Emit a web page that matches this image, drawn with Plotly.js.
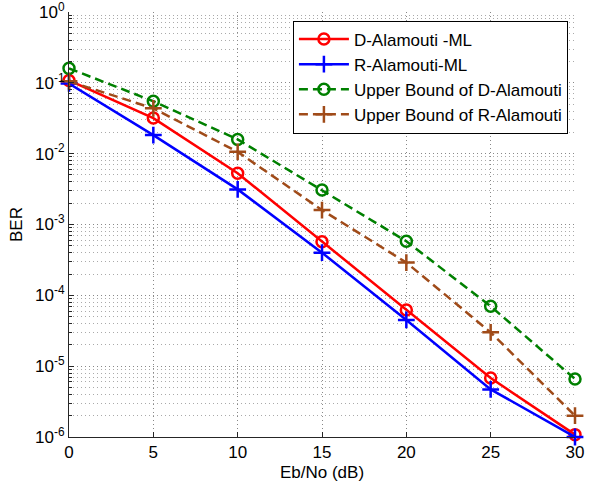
<!DOCTYPE html>
<html>
<head>
<meta charset="utf-8">
<script src="https://cdn.plot.ly/plotly-3.0.1.min.js"></script>
<style>html,body{margin:0;padding:0;background:#fff}#chart{width:594px;height:488px}</style>
</head>
<body>
<div id="chart"></div>
<script>
var ebno = [0, 5, 10, 15, 20, 25, 30];
var dAlamoutiML = [0.108, 0.0318, 0.0053, 5.7e-4, 6.2e-5, 6.8e-6, 1.08e-6];
var rAlamoutiML = [0.098, 0.0183, 0.00313, 4.0e-4, 4.5e-5, 4.7e-6, 1.0e-6];
var ubDAlamouti = [0.16, 0.055, 0.0159, 0.00306, 5.8e-4, 7.0e-5, 6.6e-6];
var ubRAlamouti = [0.105, 0.0436, 0.0106, 0.0016, 2.9e-4, 3.0e-5, 2.0e-6];
var names = ['D-Alamouti -ML', 'R-Alamouti-ML', 'Upper Bound of D-Alamouti', 'Upper Bound of R-Alamouti'];
var yTickVals = [1e-6, 1e-5, 1e-4, 1e-3, 1e-2, 1e-1, 1];
var yTickText = ['10<sup>-6</sup>', '10<sup>-5</sup>', '10<sup>-4</sup>', '10<sup>-3</sup>', '10<sup>-2</sup>', '10<sup>-1</sup>', '10<sup>0</sup>'];
var xTickVals = [0, 5, 10, 15, 20, 25, 30];

var minorVals = [];
for (var e = -6; e < 0; e++) {
  for (var m = 2; m <= 9; m++) minorVals.push(m * Math.pow(10, e));
}

var brown = 'rgb(160,75,25)';
var dashPat = '9px,5px';
var traces = [
  {x: ebno, y: dAlamoutiML, name: names[0], mode: 'lines+markers',
   line: {color: 'rgb(255,0,0)', width: 2.5},
   marker: {symbol: 'circle-open', size: 11, color: 'rgb(255,0,0)', line: {width: 2.5}}},
  {x: ebno, y: rAlamoutiML, name: names[1], mode: 'lines+markers',
   line: {color: 'rgb(0,0,255)', width: 2.5},
   marker: {symbol: 'cross-thin-open', size: 12, color: 'rgb(0,0,255)', line: {width: 2.5, color: 'rgb(0,0,255)'}}},
  {x: ebno, y: ubDAlamouti, name: names[2], mode: 'lines+markers',
   line: {color: 'rgb(0,128,0)', width: 2.5, dash: dashPat},
   marker: {symbol: 'circle-open', size: 11, color: 'rgb(0,128,0)', line: {width: 2.5}}},
  {x: ebno, y: ubRAlamouti, name: names[3], mode: 'lines+markers',
   line: {color: brown, width: 2.5, dash: dashPat},
   marker: {symbol: 'cross-thin-open', size: 12, color: brown, line: {width: 2.5, color: brown}}}
];
traces.forEach(function (t) { t.cliponaxis = false; });

var layout = {
  width: 594, height: 488,
  margin: {l: 69, r: 19, t: 12, b: 51},
  paper_bgcolor: '#fff', plot_bgcolor: '#fff',
  font: {family: 'Liberation Sans, Arial, sans-serif', size: 17, color: '#000'},
  showlegend: true,
  legend: {
    x: 0.986, xanchor: 'right', y: 0.98, yanchor: 'top',
    bgcolor: '#fff', bordercolor: '#000', borderwidth: 1,
    font: {size: 17, color: '#000'}, itemwidth: 50, tracegroupgap: 0
  },
  xaxis: {
    range: [0, 30], tickmode: 'array', tickvals: xTickVals,
    showline: true, linecolor: '#262626', linewidth: 1, mirror: false,
    ticks: 'inside', ticklen: 5, tickcolor: '#262626',
    showgrid: true, gridcolor: '#888', griddash: '1px,3px', gridwidth: 1,
    zeroline: false, ticklabeloverflow: 'allow',
    tickfont: {size: 17},
    title: {text: 'Eb/No (dB)', font: {size: 17}, standoff: 4}
  },
  yaxis: {
    type: 'log', range: [-6, 0],
    tickmode: 'array', tickvals: yTickVals, ticktext: yTickText,
    showline: true, linecolor: '#262626', linewidth: 1, mirror: false,
    ticks: 'inside', ticklen: 5, tickcolor: '#262626',
    showgrid: true, gridcolor: '#888', griddash: '1px,3px', gridwidth: 1,
    zeroline: false, ticklabeloverflow: 'allow',
    tickfont: {size: 17},
    minor: {tickmode: 'array', tickvals: minorVals, ticks: 'inside', ticklen: 3, tickcolor: '#262626',
            showgrid: true, gridcolor: '#aaa', griddash: '1px,3px', gridwidth: 1},
    title: {text: 'BER', font: {size: 17}, standoff: 8}
  }
};

Plotly.newPlot('chart', traces, layout, {displayModeBar: false, staticPlot: true});
</script>
</body>
</html>
